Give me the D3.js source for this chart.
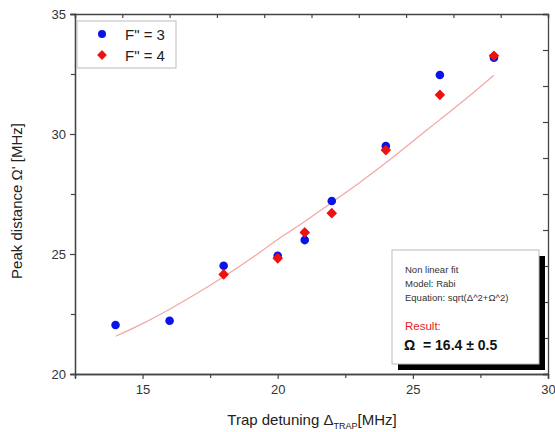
<!DOCTYPE html>
<html>
<head>
<meta charset="utf-8">
<script src="https://d3js.org/d3.v7.min.js"></script>
<style>
  body { margin: 0; background: #fff; }
  svg text { font-family: "Liberation Sans", Arial, sans-serif; }
</style>
</head>
<body>
<div id="chart"></div>
<script>
// detuning values (MHz)
var xF3 = [14, 16, 18, 20, 21, 22, 24, 26, 28];
var yF3 = [22.04, 22.22, 24.51, 24.93, 25.58, 27.21, 29.5, 32.46, 33.18];
var xF4 = [18, 20, 21, 22, 24, 26, 28];
var yF4 = [24.15, 24.82, 25.9, 26.7, 29.33, 31.63, 33.26];
// fitted curve
var xFit = [14, 15, 16, 17, 18, 19, 20, 21, 22, 23, 24, 25, 26, 27, 28];
var yFit = [21.57, 22.1, 22.7, 23.35, 24.05, 24.8, 25.6, 26.35, 27.15, 27.95, 28.8, 29.7, 30.6, 31.5, 32.45];
var xTicks = [15, 20, 25, 30];
var xMinor = [12.5, 17.5, 22.5, 27.5];
var yTicks = [20, 25, 30, 35];
var yMinor = [22.5, 27.5, 32.5];
var fitLines = ["Non linear fit", "Model: Rabi", "Equation: sqrt(\u0394^2+\u03A9^2)"];

var W = 555, H = 432;
var margin = {top: 14, right: 7, bottom: 58, left: 75};
var width = W - margin.left - margin.right,
    height = H - margin.top - margin.bottom;

var svg = d3.select("#chart").append("svg")
    .attr("width", W)
    .attr("height", H);
var g = svg.append("g")
    .attr("transform", "translate(" + margin.left + "," + margin.top + ")");

var x = d3.scaleLinear().domain([12.5, 30]).range([0, width]);
var y = d3.scaleLinear().domain([20, 35]).range([height, 0]);
// top/right frame axes just have 10 even ticks
var xTop = d3.scaleLinear().domain([0, 10]).range([0, width]);
var yRight = d3.scaleLinear().domain([0, 10]).range([height, 0]);

var axisCol = "#444";

// bottom axis
g.append("g").attr("transform", "translate(0," + height + ")")
    .call(d3.axisBottom(x).tickValues(xTicks).tickSize(5).tickPadding(6).tickFormat(d3.format("d")));
g.append("g").attr("transform", "translate(0," + height + ")")
    .call(d3.axisBottom(x).tickValues(xMinor).tickSize(4).tickFormat(""));
// left axis
g.append("g")
    .call(d3.axisLeft(y).tickValues(yTicks).tickSize(5).tickPadding(4).tickFormat(d3.format("d")));
g.append("g")
    .call(d3.axisLeft(y).tickValues(yMinor).tickSize(4).tickFormat(""));
// top + right
g.append("g")
    .call(d3.axisBottom(xTop).ticks(10).tickSize(4).tickFormat(""));
g.append("g").attr("transform", "translate(" + width + ",0)")
    .call(d3.axisLeft(yRight).ticks(10).tickSize(5).tickFormat(""));

g.selectAll(".domain").attr("stroke", axisCol).attr("stroke-width", 1.3);
g.selectAll(".tick line").attr("stroke", axisCol).attr("stroke-width", 1.2);
g.selectAll(".tick text").attr("fill", "#333").style("font-size", "13px")
    .style("font-family", "'Liberation Sans', Arial, sans-serif");

// fit curve
var fitData = xFit.map(function(d, i) { return [d, yFit[i]]; });
g.append("path")
    .datum(fitData)
    .attr("fill", "none")
    .attr("stroke", "#f2a6a6")
    .attr("stroke-width", 1.2)
    .attr("d", d3.line().curve(d3.curveMonotoneX)
        .x(function(d) { return x(d[0]); })
        .y(function(d) { return y(d[1]); }));

// F'' = 3 (blue circles)
g.selectAll(".f3")
    .data(xF3.map(function(d, i) { return [d, yF3[i]]; }))
    .enter().append("circle")
    .attr("cx", function(d) { return x(d[0]); })
    .attr("cy", function(d) { return y(d[1]); })
    .attr("r", 4.3)
    .attr("fill", "#0a14e6");

// F'' = 4 (red diamonds = rotated squares)
var diamond = d3.symbol().type(d3.symbolSquare).size(38);
g.selectAll(".f4")
    .data(xF4.map(function(d, i) { return [d, yF4[i]]; }))
    .enter().append("path")
    .attr("d", diamond)
    .attr("transform", function(d) { return "translate(" + x(d[0]) + "," + y(d[1]) + ") rotate(45)"; })
    .attr("fill", "#ee1111")
    .attr("stroke", "#ee1111")
    .attr("stroke-linejoin", "round")
    .attr("stroke-width", 1.4);

// legend
var leg = svg.append("g").attr("transform", "translate(77,21)");
leg.append("rect").attr("width", 99).attr("height", 47)
    .attr("fill", "#fff").attr("stroke", "#bbb").attr("stroke-width", 1);
leg.append("circle").attr("cx", 25).attr("cy", 13).attr("r", 4).attr("fill", "#0a14e6");
leg.append("path").attr("d", d3.symbol().type(d3.symbolSquare).size(32))
    .attr("transform", "translate(25,34) rotate(45)")
    .attr("fill", "#ee1111").attr("stroke", "#ee1111").attr("stroke-width", 1.2)
    .attr("stroke-linejoin", "round");
leg.append("text").attr("x", 48).attr("y", 19).text("F\" = 3")
    .style("font-size", "15px").attr("fill", "#222");
leg.append("text").attr("x", 48).attr("y", 40).text("F\" = 4")
    .style("font-size", "15px").attr("fill", "#222");

// fit result box with shadow
var box = svg.append("g").attr("transform", "translate(392,250)");
box.append("rect").attr("x", 6).attr("y", 6).attr("width", 147).attr("height", 114).attr("fill", "#000");
box.append("rect").attr("width", 147).attr("height", 114)
    .attr("fill", "#fff").attr("stroke", "#bbb").attr("stroke-width", 1);
box.selectAll(".fl").data(fitLines).enter().append("text")
    .attr("x", 13)
    .attr("y", function(d, i) { return 23 + i * 14; })
    .text(function(d) { return d; })
    .style("font-size", "9.5px").attr("fill", "#333");
box.append("text").attr("x", 13).attr("y", 80).text("Result:")
    .style("font-size", "11.5px").attr("fill", "#e51c23");
box.append("text").attr("x", 12).attr("y", 100)
    .style("white-space", "pre")
    .text("\u03A9  = 16.4 \u00B1 0.5")
    .style("font-size", "14px").style("font-weight", "bold").attr("fill", "#111");

// axis titles
var xt = svg.append("text")
    .attr("x", 312).attr("y", 425)
    .attr("text-anchor", "middle")
    .style("font-size", "15px").attr("fill", "#222");
xt.append("tspan").text("Trap detuning \u0394");
xt.append("tspan").attr("dy", 4).style("font-size", "9px").text("TRAP");
xt.append("tspan").attr("dy", -4).text("[MHz]");

svg.append("text")
    .attr("transform", "translate(22,201) rotate(-90)")
    .attr("text-anchor", "middle")
    .style("font-size", "15px").attr("fill", "#222")
    .text("Peak distance \u03A9' [MHz]");
</script>
</body>
</html>
